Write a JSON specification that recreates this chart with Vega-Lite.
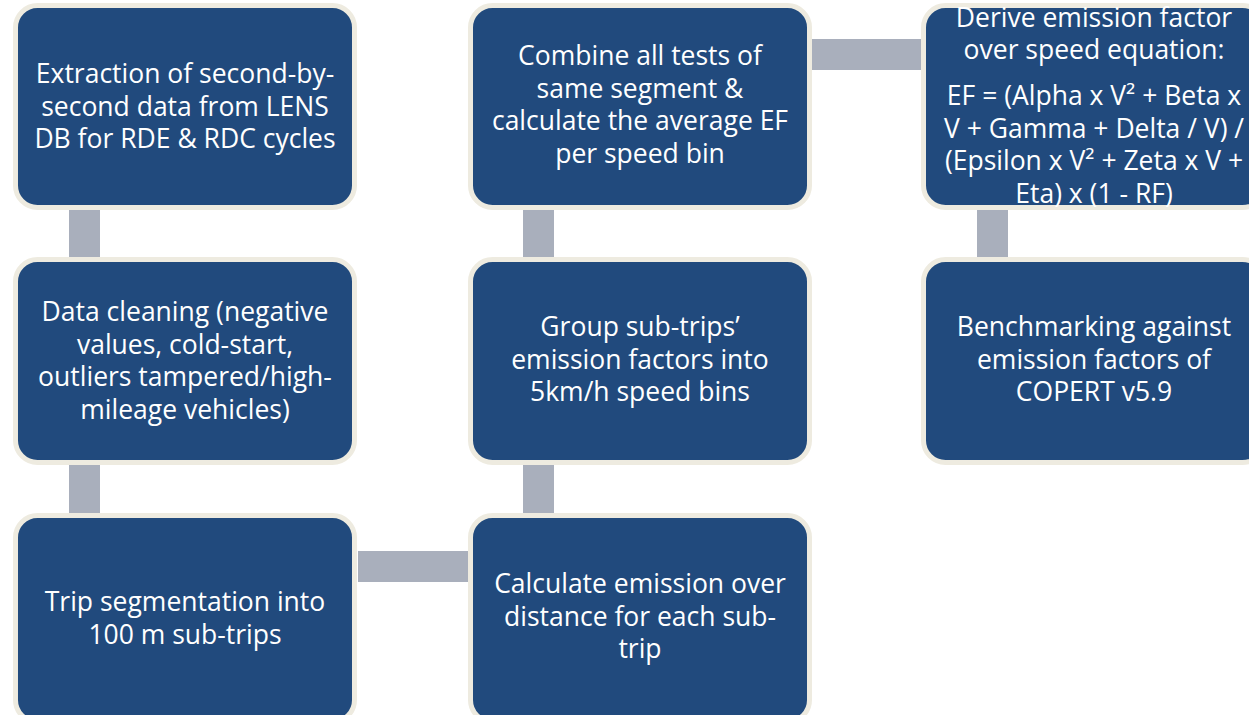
{
  "$schema": "https://vega.github.io/schema/vega-lite/v6.json",
  "width": 1249,
  "height": 715,
  "padding": 0,
  "autosize": {"type": "none"},
  "background": "#ffffff",
  "config": {"view": {"stroke": null}},
  "datasets": {
    "boxes": [
      {"id": "A", "x1": 15.5, "x2": 354.5, "y1": 5.5, "y2": 207.5},
      {"id": "B", "x1": 15.5, "x2": 354.5, "y1": 259.5, "y2": 462.5},
      {"id": "C", "x1": 15.5, "x2": 354.5, "y1": 515.5, "y2": 722},
      {"id": "D", "x1": 470.5, "x2": 809.5, "y1": 5.5, "y2": 207.5},
      {"id": "E", "x1": 470.5, "x2": 809.5, "y1": 259.5, "y2": 462.5},
      {"id": "F", "x1": 470.5, "x2": 809.5, "y1": 515.5, "y2": 722},
      {"id": "G", "x1": 923.5, "x2": 1264.5, "y1": 5.5, "y2": 207.5},
      {"id": "H", "x1": 923.5, "x2": 1264.5, "y1": 259.5, "y2": 462.5}
    ],
    "links": [
      {"x1": 69, "x2": 100, "y1": 209, "y2": 258},
      {"x1": 69, "x2": 100, "y1": 464, "y2": 514},
      {"x1": 358, "x2": 468, "y1": 551, "y2": 582},
      {"x1": 523, "x2": 554, "y1": 464, "y2": 514},
      {"x1": 523, "x2": 554, "y1": 209, "y2": 258},
      {"x1": 812, "x2": 922, "y1": 39, "y2": 70},
      {"x1": 977, "x2": 1008, "y1": 209, "y2": 258}
    ],
    "labels": [
      {"x": 185, "y": 75, "t": "Extraction of second-by-\nsecond data from LENS\nDB for RDE & RDC cycles"},
      {"x": 185, "y": 313, "t": "Data cleaning (negative\nvalues, cold-start,\noutliers tampered/high-\nmileage vehicles)"},
      {"x": 185, "y": 603, "t": "Trip segmentation into\n100 m sub-trips"},
      {"x": 640, "y": 57, "t": "Combine all tests of\nsame segment &\ncalculate the average EF\nper speed bin"},
      {"x": 640, "y": 328, "t": "Group sub-trips’\nemission factors into\n5km/h speed bins"},
      {"x": 640, "y": 585, "t": "Calculate emission over\ndistance for each sub-\ntrip"},
      {"x": 1094, "y": 18.5, "t": "Derive emission factor\nover speed equation:"},
      {"x": 1094, "y": 97, "t": "EF = (Alpha x V² + Beta x\nV + Gamma + Delta / V) /\n(Epsilon x V² + Zeta x V +\nEta) x (1 - RF)"},
      {"x": 1094, "y": 328, "t": "Benchmarking against\nemission factors of\nCOPERT v5.9"}
    ]
  },
  "layer": [
    {
      "data": {"name": "links"},
      "mark": {"type": "rect", "color": "#A9AFBC"},
      "encoding": {
        "x": {"field": "x1", "type": "quantitative", "scale": {"domain": [0, 1249], "nice": false, "zero": false}, "axis": null},
        "x2": {"field": "x2"},
        "y": {"field": "y1", "type": "quantitative", "scale": {"domain": [0, 715], "nice": false, "zero": false, "reverse": true}, "axis": null},
        "y2": {"field": "y2"}
      }
    },
    {
      "data": {"name": "boxes"},
      "mark": {"type": "rect", "fill": "#214A7D", "stroke": "#EEEBE0", "strokeWidth": 5, "cornerRadius": 22, "clip": true},
      "encoding": {
        "x": {"field": "x1", "type": "quantitative"},
        "x2": {"field": "x2"},
        "y": {"field": "y1", "type": "quantitative"},
        "y2": {"field": "y2"}
      }
    },
    {
      "data": {"name": "labels"},
      "mark": {"type": "text", "font": "Open Sans", "fontSize": 26.5, "lineHeight": 32.5, "lineBreak": "\n", "color": "#ffffff", "align": "center", "baseline": "middle"},
      "encoding": {
        "x": {"field": "x", "type": "quantitative"},
        "y": {"field": "y", "type": "quantitative"},
        "text": {"field": "t"}
      }
    }
  ]
}
